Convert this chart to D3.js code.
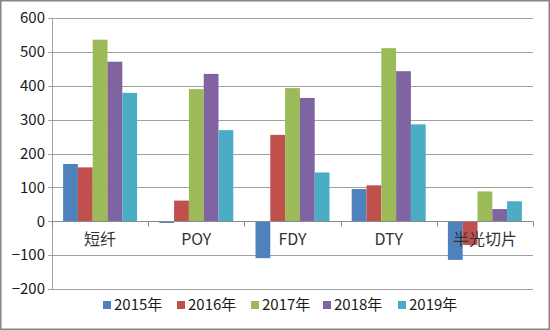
<!DOCTYPE html>
<html><head><meta charset="utf-8">
<script src="https://cdn.jsdelivr.net/npm/d3@7"></script>
<style>
html,body{margin:0;padding:0;background:#fff;}
svg{display:block;}
text{font-family:"Noto Sans CJK SC","Liberation Sans",sans-serif;}
</style></head>
<body>
<script>
const categories = ["短纤", "POY", "FDY", "DTY", "半光切片"];
const seriesNames = ["2015年", "2016年", "2017年", "2018年", "2019年"];
const s2015 = [169, -5, -109, 95, -114];
const s2016 = [159, 61, 255, 106, -70];
const s2017 = [536, 390, 393, 511, 88];
const s2018 = [471, 435, 364, 443, 36];
const s2019 = [379, 269, 144, 286, 59];
const yTicks = [-200, -100, 0, 100, 200, 300, 400, 500, 600];
const colors = ["#4F81BD", "#C0504D", "#9BBB59", "#8064A2", "#4BACC6"];
const seriesValues = [s2015, s2016, s2017, s2018, s2019];

(function () {
const W = 550, H = 330;
const pL = 52, pR = 533, pT = 18, pB = 289;

const svg = d3.select("body").append("svg").attr("width", W).attr("height", H);
svg.append("rect").attr("x", 0.75).attr("y", 0.75).attr("width", W - 1.5).attr("height", H - 1.5)
  .attr("fill", "#fff").attr("stroke", "#868686").attr("stroke-width", 1.5);

const y = d3.scaleLinear().domain([-200, 600]).range([pB, pT]);
const x0 = d3.scaleBand().domain(categories).range([pL, pR]).paddingInner(0).paddingOuter(0);
const x1 = d3.scaleBand().domain(seriesNames).range([0, x0.bandwidth()]).paddingInner(0).paddingOuter(0.75);

// gridlines
svg.append("g").selectAll("line").data(yTicks).join("line")
  .attr("x1", pL - 4).attr("x2", pR)
  .attr("y1", d => Math.round(y(d)) + 0.5).attr("y2", d => Math.round(y(d)) + 0.5)
  .attr("stroke", "#a0a0a0").attr("stroke-width", 1);

// y axis labels
const yAxis = d3.axisLeft(y).tickValues(yTicks).tickSize(0).tickPadding(6);
const gy = svg.append("g").attr("transform", `translate(${pL},0)`).call(yAxis);
gy.select(".domain").remove();
gy.selectAll("text").attr("font-size", 15).attr("fill", "#1a1a1a")
  .attr("font-family", "'Open Sans','DejaVu Sans',sans-serif").attr("dx", -1);

// left axis line
svg.append("line").attr("x1", pL + 0.5).attr("x2", pL + 0.5).attr("y1", pT).attr("y2", pB)
  .attr("stroke", "#a0a0a0");

// bars
const groups = svg.append("g").selectAll("g").data(categories).join("g")
  .attr("transform", d => `translate(${x0(d)},0)`);
groups.selectAll("rect").data((c, ci) => seriesNames.map((s, si) => ({ s, si, v: seriesValues[si][ci] })))
  .join("rect")
  .attr("x", d => x1(d.s)).attr("width", x1.bandwidth())
  .attr("y", d => y(Math.max(0, d.v))).attr("height", d => Math.abs(y(d.v) - y(0)))
  .attr("fill", d => colors[d.si]);

// category axis at zero
const xAxis = d3.axisBottom(x0).tickSize(0).tickPadding(12);
const gx = svg.append("g").attr("transform", `translate(0,${Math.round(y(0)) + 0.5})`).call(xAxis);
gx.select(".domain").attr("stroke", "#8c8c8c").attr("d", `M${pL},0H${pR}`);
gx.selectAll("text").attr("font-size", 16).attr("fill", "#333")
  .attr("font-family", "'Open Sans','Noto Sans CJK SC',sans-serif");
// boundary ticks
gx.append("g").selectAll("line").data(d3.range(categories.length + 1)).join("line")
  .attr("x1", i => Math.round(pL + i * x0.bandwidth()) + 0.5)
  .attr("x2", i => Math.round(pL + i * x0.bandwidth()) + 0.5)
  .attr("y1", 0).attr("y2", 5).attr("stroke", "#8c8c8c");

// legend
const legendX = [103, 177, 251, 323, 398];
const lg = svg.append("g").selectAll("g").data(seriesNames).join("g")
  .attr("transform", (d, i) => `translate(${legendX[i]},305)`);
lg.append("rect").attr("x", 0).attr("y", -4).attr("width", 8).attr("height", 8)
  .attr("fill", (d, i) => colors[i]);
lg.append("text").attr("x", 11).attr("y", 0).attr("dy", "0.36em").attr("font-size", 15)
  .attr("fill", "#1a1a1a").attr("font-family", "'Open Sans','Noto Sans CJK SC',sans-serif")
  .text(d => d);
})();
</script>
</body></html>
